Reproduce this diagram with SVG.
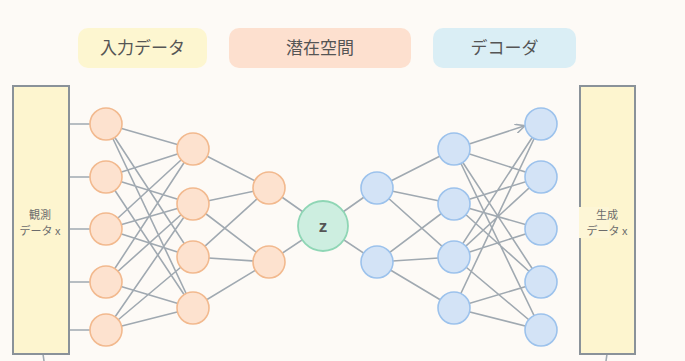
<svg xmlns="http://www.w3.org/2000/svg" width="685" height="361" viewBox="0 0 685 361">
<defs>
<style>
.tag{font-family:"Noto Sans CJK JP","Noto Sans",sans-serif;font-size:17px;fill:#555;text-anchor:middle}
.lbl{font-family:"Noto Sans CJK JP","Noto Sans",sans-serif;font-size:11px;fill:#6c6c6c;text-anchor:middle}
.enc{fill:#fde2cf;stroke:#f2b98e;stroke-width:1.6}
.dec{fill:#d3e3f6;stroke:#9cc2ec;stroke-width:1.6}
.lat{fill:#cdeee0;stroke:#8fd6b5;stroke-width:1.8}
.box{fill:#fdf5cf;stroke:#8a9299;stroke-width:2}
.e{stroke:#a0a9b1;stroke-width:1.6;fill:none}
</style>
<marker id="arr" viewBox="0 0 10 10" refX="9" refY="5" markerWidth="6" markerHeight="6" orient="auto"><path d="M0,0 L10,5 L0,10" fill="none" stroke="#a0a9b1" stroke-width="1.6"/></marker>
</defs>
<rect width="685" height="361" fill="#fdfaf6"/>
<g id="tag-input"><rect x="78" y="28" width="129" height="40" rx="10" fill="#fdf6d0"/><text class="tag" x="142.5" y="54">入力データ</text></g>
<g id="tag-latent"><rect x="229" y="28" width="182" height="40" rx="10" fill="#fde0cf"/><text class="tag" x="320" y="54">潜在空間</text></g>
<g id="tag-decoder"><rect x="433" y="28" width="143" height="40" rx="10" fill="#daeef5"/><text class="tag" x="504.5" y="54">デコーダ</text></g>
<g id="connectors">
<path class="e" d="M69,124H90M69,177H90M69,229H90M69,282H90M69,330H90"/>
<path class="e" d="M106,124L193,149M106,124L193,257M106,124L193,308M106,177L193,149M106,177L193,204M106,177L193,308M106,229L193,149M106,229L193,204M106,229L193,257M106,282L193,149M106,282L193,204M106,282L193,308M106,330L193,204M106,330L193,257M106,330L193,308"/>
<path class="e" d="M193,149L269,188M193,204L269,188M193,204L269,262M193,257L269,188M193,257L269,262M193,308L269,262"/>
<path class="e" d="M269,188L323,226M269,262L323,226M323,226L377,188M323,226L377,262"/>
<path class="e" d="M377,188L454,149M377,188L454,204M377,188L454,257M377,262L454,204M377,262L454,257M377,262L454,308"/>
<path class="e" d="M454,149L541,282M454,149L541,330M454,204L541,177M454,204L541,229M454,204L541,282M454,257L541,124M454,257L541,177M454,257L541,229M454,257L541,330M454,308L541,124M454,308L541,282M454,308L541,330M454,149L541,177"/>
<path class="e" d="M454,149L524,126" marker-end="url(#arr)"/>
<path class="e" d="M43,354L44,361M607,354L606,361"/>
</g>
<g id="input-data"><rect class="box" x="13" y="86" width="56" height="268"/><text class="lbl" x="40" y="219">観測</text><text class="lbl" x="40" y="235">データ x</text></g>
<g id="output-data"><rect class="box" x="580" y="86" width="55" height="268"/><rect x="579" y="207" width="30" height="31" fill="#fdf6d6"/><text class="lbl" x="607" y="219">生成</text><text class="lbl" x="607" y="235">データ x</text></g>
<g id="enc1-1"><circle class="enc" cx="106" cy="124" r="16"/></g>
<g id="enc1-2"><circle class="enc" cx="106" cy="177" r="16"/></g>
<g id="enc1-3"><circle class="enc" cx="106" cy="229" r="16"/></g>
<g id="enc1-4"><circle class="enc" cx="106" cy="282" r="16"/></g>
<g id="enc1-5"><circle class="enc" cx="106" cy="330" r="16"/></g>
<g id="enc2-1"><circle class="enc" cx="193" cy="149" r="16"/></g>
<g id="enc2-2"><circle class="enc" cx="193" cy="204" r="16"/></g>
<g id="enc2-3"><circle class="enc" cx="193" cy="257" r="16"/></g>
<g id="enc2-4"><circle class="enc" cx="193" cy="308" r="16"/></g>
<g id="enc3-1"><circle class="enc" cx="269" cy="188" r="16"/></g>
<g id="enc3-2"><circle class="enc" cx="269" cy="262" r="16"/></g>
<g id="z"><circle class="lat" cx="323" cy="226" r="25"/><text x="323" y="232" font-family="Liberation Sans,sans-serif" font-size="17" font-weight="bold" fill="#555" text-anchor="middle">z</text></g>
<g id="dec1-1"><circle class="dec" cx="377" cy="188" r="16"/></g>
<g id="dec1-2"><circle class="dec" cx="377" cy="262" r="16"/></g>
<g id="dec2-1"><circle class="dec" cx="454" cy="149" r="16"/></g>
<g id="dec2-2"><circle class="dec" cx="454" cy="204" r="16"/></g>
<g id="dec2-3"><circle class="dec" cx="454" cy="257" r="16"/></g>
<g id="dec2-4"><circle class="dec" cx="454" cy="308" r="16"/></g>
<g id="dec3-1"><circle class="dec" cx="541" cy="124" r="16"/></g>
<g id="dec3-2"><circle class="dec" cx="541" cy="177" r="16"/></g>
<g id="dec3-3"><circle class="dec" cx="541" cy="229" r="16"/></g>
<g id="dec3-4"><circle class="dec" cx="541" cy="282" r="16"/></g>
<g id="dec3-5"><circle class="dec" cx="541" cy="330" r="16"/></g>
</svg>
